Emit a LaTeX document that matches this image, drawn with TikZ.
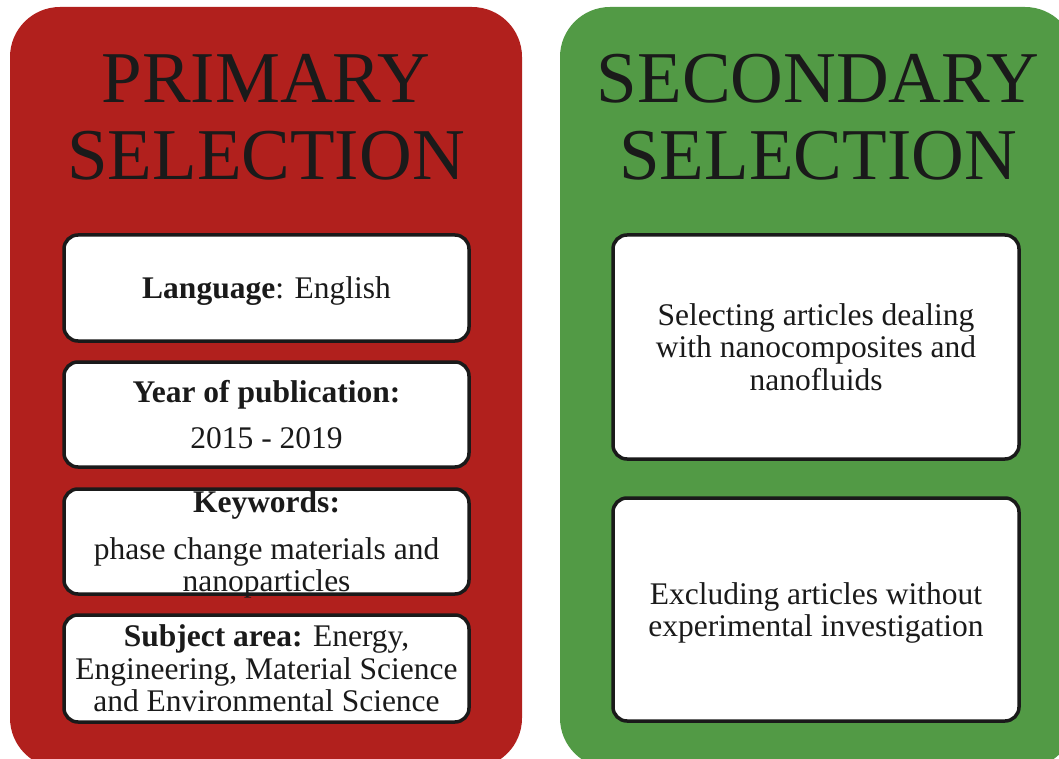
\documentclass[tikz,border=0pt]{standalone}
\usepackage{fontspec}
\setmainfont{Liberation Serif}
\definecolor{pred}{RGB}{177,32,29}
\definecolor{pgreen}{RGB}{82,154,69}
\definecolor{inkc}{RGB}{26,26,26}
\tikzset{
  panel/.style={rounded corners=50pt, inner sep=0pt},
  wbox/.style={draw=inkc, line width=3.5pt, fill=white, rounded corners=14pt, inner sep=0pt,
    align=center, text=inkc, text depth=0pt, font=\fontsize{31.5}{32.5}\selectfont},
  title/.style={font=\fontsize{73}{77}\selectfont, text=inkc, align=center, inner sep=0pt}
}
\begin{document}
\begin{tikzpicture}[x=1pt,y=-1pt]
\useasboundingbox (0,0) rectangle (1059,759);
\clip (0,0) rectangle (1059,759);
% panels
\node[panel, fill=pred, minimum width=512pt, minimum height=761pt] (prim) at (266,387.5) {};
\node[panel, fill=pgreen, minimum width=515pt, minimum height=761pt] (sec) at (817.5,387.5) {};
% titles
\node[title] (ptitle) at (266,117.5) {PRIMARY\\SELECTION};
\node[title] (stitle) at (818,117.5) {SECONDARY\\SELECTION};
% primary boxes
\node[wbox, minimum width=405pt, minimum height=106pt] (lang) at (266.5,288) {\textbf{Language}: English};
\node[wbox, minimum width=405pt, minimum height=105pt] (year) at (266.5,414.5) {\textbf{Year of publication:}\\[13pt]2015 - 2019};
\node[wbox, minimum width=405pt, minimum height=105pt] (keyw) at (266.5,541.5) {\textbf{Keywords:}\\[14pt]phase change materials and\\nanoparticles};
\node[wbox, minimum width=405pt, minimum height=107pt] (subj) at (266.5,668.5) {\textbf{Subject area:} Energy,\\Engineering, Material Science\\and Environmental Science};
% secondary boxes
\node[wbox, minimum width=406pt, minimum height=224pt] (sel) at (816,347) {Selecting articles dealing\\with nanocomposites and\\nanofluids};
\node[wbox, minimum width=406pt, minimum height=223pt] (excl) at (816,609.5) {Excluding articles without\\experimental investigation};
\end{tikzpicture}
\end{document}
